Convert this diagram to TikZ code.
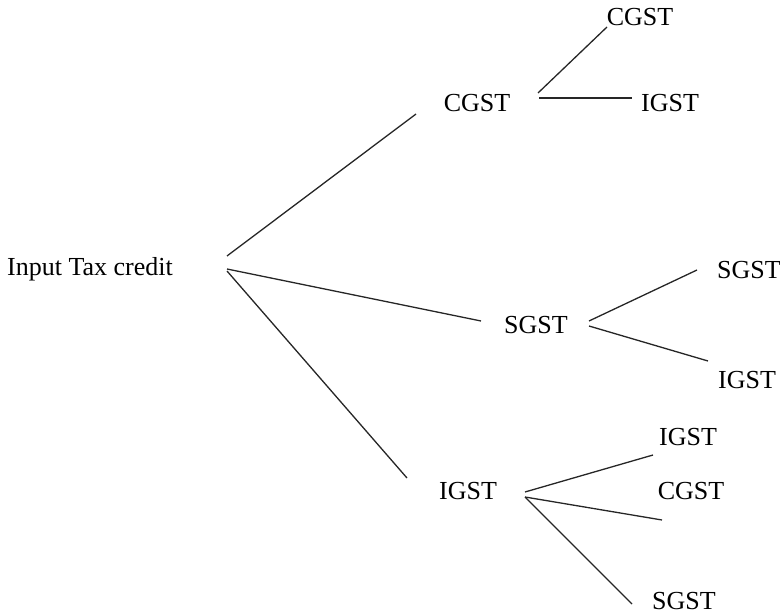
\documentclass[tikz,border=0pt]{standalone}
\usepackage{fontspec}
\setmainfont{Liberation Serif}
\begin{document}
\begin{tikzpicture}[x=1pt,y=-1pt,
  lbl/.style={inner sep=0pt,font=\fontsize{26}{30}\selectfont},
  branch/.style={line width=1.3pt,draw=black!85}]
\useasboundingbox (0,0) rectangle (780,615);

% labels
\node[lbl,anchor=west] (itc) at (7,269) {Input Tax credit};
\node[lbl] (c1) at (477,103) {CGST};
\node[lbl] (s1) at (536,325) {SGST};
\node[lbl] (i1) at (468,491) {IGST};
\node[lbl] (c1c) at (640,17) {CGST};
\node[lbl] (c1i) at (670,103) {IGST};
\node[lbl] (s1s) at (749,270) {SGST};
\node[lbl] (s1i) at (747,380) {IGST};
\node[lbl] (i1i) at (688,437) {IGST};
\node[lbl] (i1c) at (691,491) {CGST};
\node[lbl] (i1s) at (684,601) {SGST};

% branch end points
\coordinate (r1) at (227,256);
\coordinate (r2) at (227,269);
\coordinate (r3) at (227,271);
\coordinate (a1) at (416,114);
\coordinate (a2) at (481,321);
\coordinate (a3) at (407,478);
\coordinate (cb1) at (538,93);
\coordinate (cb2) at (539,98);
\coordinate (ce1) at (607,27);
\coordinate (ce2) at (632,98);
\coordinate (sb1) at (589,321);
\coordinate (sb2) at (589,326);
\coordinate (se1) at (697,270);
\coordinate (se2) at (708,361);
\coordinate (ib1) at (525,492);
\coordinate (ib2) at (525,497);
\coordinate (ie1) at (653,455);
\coordinate (ie2) at (662,520);
\coordinate (ie3) at (632,604);

% branches
\draw[branch] (r1) -- (a1);
\draw[branch] (r2) -- (a2);
\draw[branch] (r3) -- (a3);
\draw[branch] (cb1) -- (ce1);
\draw[branch] (cb2) -- (ce2);
\draw[branch] (sb1) -- (se1);
\draw[branch] (sb2) -- (se2);
\draw[branch] (ib1) -- (ie1);
\draw[branch] (ib2) -- (ie2);
\draw[branch] (ib2) -- (ie3);
\end{tikzpicture}
\end{document}
